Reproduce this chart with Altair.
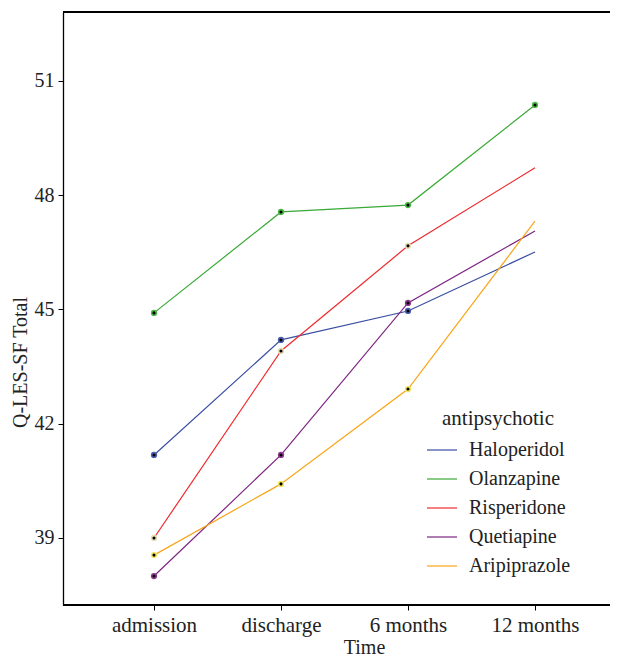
import altair as alt
import pandas as pd

times = ["admission", "discharge", "6 months", "12 months"]
drugs = ["Haloperidol", "Olanzapine", "Risperidone", "Quetiapine", "Aripiprazole"]
haloperidol = [41.18, 44.20, 44.96, 46.51]
olanzapine = [44.91, 47.56, 47.74, 50.37]
risperidone = [39.00, 43.91, 46.67, 48.72]
quetiapine = [38.00, 41.18, 45.17, 47.06]
aripiprazole = [38.55, 40.42, 42.91, 47.32]
# which time points carry a marker, per drug
marked = {
    "Haloperidol": [True, True, True, False],
    "Olanzapine": [True, True, True, True],
    "Risperidone": [True, True, True, False],
    "Quetiapine": [True, True, True, False],
    "Aripiprazole": [True, True, True, False],
}
line_colors = ["#3A4FA0", "#3AA935", "#EE2A2E", "#7D2482", "#F9A51A"]
halo_colors = ["#4A5FB0", "#4CB845", "#E6DCB0", "#8E3A90", "#F2E45A"]

series = [haloperidol, olanzapine, risperidone, quetiapine, aripiprazole]
rows = []
for d, vals in zip(drugs, series):
    for t, v, m in zip(times, vals, marked[d]):
        rows.append({"Time": t, "score": v, "antipsychotic": d, "marked": m})
df = pd.DataFrame(rows)

FONT = "Liberation Serif"

x = alt.X("Time:N", sort=times, title="Time",
          scale=alt.Scale(type="point", range=[91, 472], padding=0),
          axis=alt.Axis(labelAngle=0, labelFontSize=21, titleFontSize=20,
                        labelFont=FONT, titleFont=FONT, titleFontWeight="normal",
                        tickSize=5, labelPadding=4, titlePadding=2, titleX=301,
                        domain=False,
                        labelColor="#222222", titleColor="#222222",
                        tickColor="#000000"))
y = alt.Y("score:Q", title="Q-LES-SF Total",
          scale=alt.Scale(domain=[37.24, 52.81], nice=False, zero=False),
          axis=alt.Axis(values=[39, 42, 45, 48, 51], labelFontSize=20, titleFontSize=20,
                        labelFont=FONT, titleFont=FONT, titleFontWeight="normal",
                        tickSize=5, labelPadding=4, titlePadding=4, titleY=350, grid=False,
                        labelColor="#222222", titleColor="#222222",
                        domainColor="#000000", tickColor="#000000", domainWidth=1.3))

lines = alt.Chart(df).mark_line(strokeWidth=1.2).encode(
    x=x, y=y,
    color=alt.Color("antipsychotic:N", sort=drugs,
                    scale=alt.Scale(domain=drugs, range=line_colors),
                    legend=alt.Legend(orient="none", legendX=363, legendY=396,
                                      title="antipsychotic", titleFont=FONT, titleFontSize=21,
                                      titleFontWeight="normal", titleAnchor="middle",
                                      titleColor="#222222", titlePadding=5,
                                      labelFont=FONT, labelFontSize=20, labelColor="#222222",
                                      symbolType="stroke", symbolSize=900, symbolStrokeWidth=1.2,
                                      labelOffset=11, rowPadding=3)),
    detail="antipsychotic:N",
)

points = alt.Chart(df).transform_filter("datum.marked").mark_point(
    filled=False, fill="black", fillOpacity=1, size=22, strokeWidth=1.6
).encode(
    x=x, y=y,
    stroke=alt.Stroke("antipsychotic:N", scale=alt.Scale(domain=drugs, range=halo_colors), legend=None),
)

top_rule = alt.Chart(df).mark_rule(color="#000000", strokeWidth=1.3).encode(
    x=alt.value(0), x2=alt.value(560), y=alt.value(0)
)
bottom_rule = alt.Chart(df).mark_rule(color="#000000", strokeWidth=1.3).encode(
    x=alt.value(0), x2=alt.value(560), y=alt.value(593)
)

chart = alt.layer(lines, points, top_rule, bottom_rule).properties(
    width=547, height=593,
    autosize=alt.AutoSizeParams(type="none"),
    padding={"left": 55, "top": 4, "right": 0, "bottom": 51},
).configure(font=FONT).configure_legend(
    labelFont=FONT, titleFont=FONT
).configure_view(stroke=None)

chart.save("out.html", embed_options={"renderer": "svg", "actions": False})
